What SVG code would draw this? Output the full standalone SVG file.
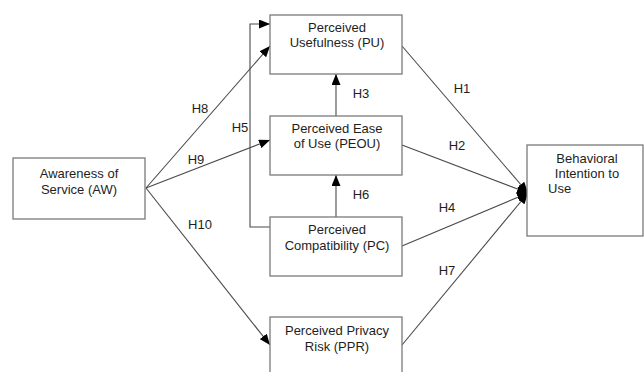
<svg xmlns="http://www.w3.org/2000/svg" width="644" height="372" viewBox="0 0 644 372">
<defs>
<style>
.box{fill:#fff;stroke:#7a7a7a;stroke-width:1.3}
.t{font-family:"Liberation Sans",Arial,sans-serif;font-size:13px;fill:#1e1e1e;text-anchor:middle}
.ts{text-anchor:start}
.lbl{font-family:"Liberation Sans",Arial,sans-serif;font-size:13px;fill:#1e1e1e;text-anchor:middle}
.edge{fill:none;stroke:#4a4a4a;stroke-width:1.1}
</style>
<marker id="arr" markerUnits="userSpaceOnUse" markerWidth="11" markerHeight="9" refX="11" refY="4.5" orient="auto">
<path d="M0,0 L11,4.5 L0,9 z" fill="#000"/>
</marker>
</defs>
<rect width="644" height="372" fill="#fff"/>
<g id="connectors">
<g id="h8"><path class="edge" d="M146,188 L270,46" marker-end="url(#arr)"/><text class="lbl" x="200" y="113">H8</text></g>
<g id="h9"><path class="edge" d="M146,188 L270,140" marker-end="url(#arr)"/><text class="lbl" x="196" y="164">H9</text></g>
<g id="h10"><path class="edge" d="M146,188 L270,345" marker-end="url(#arr)"/><text class="lbl" x="200" y="229">H10</text></g>
<g id="h5"><path class="edge" d="M270,227 L250,227 L250,24 L270,24" marker-end="url(#arr)"/><text class="lbl" x="240" y="132">H5</text></g>
<g id="h3"><path class="edge" d="M336,116 L336,74" marker-end="url(#arr)"/><text class="lbl" x="361" y="98">H3</text></g>
<g id="h6"><path class="edge" d="M336,217 L336,175" marker-end="url(#arr)"/><text class="lbl" x="361" y="199">H6</text></g>
<g id="h1"><path class="edge" d="M402,46 L528,193" marker-end="url(#arr)"/><text class="lbl" x="462" y="93">H1</text></g>
<g id="h2"><path class="edge" d="M402,145 L528,193" marker-end="url(#arr)"/><text class="lbl" x="457" y="150">H2</text></g>
<g id="h4"><path class="edge" d="M402,246 L528,193" marker-end="url(#arr)"/><text class="lbl" x="447" y="212">H4</text></g>
<g id="h7"><path class="edge" d="M402,345 L528,193" marker-end="url(#arr)"/><text class="lbl" x="447" y="275">H7</text></g>
</g>
<g id="aw"><rect class="box" x="13" y="158" width="132" height="61"/><text class="t" x="79" y="178">Awareness of</text><text class="t" x="79" y="194">Service (AW)</text></g>
<g id="pu"><rect class="box" x="270" y="15" width="132" height="59"/><text class="t" x="337" y="32">Perceived</text><text class="t" x="337" y="47">Usefulness (PU)</text></g>
<g id="peou"><rect class="box" x="270" y="116" width="132" height="59"/><text class="t" x="337" y="133">Perceived Ease</text><text class="t" x="337" y="148">of Use (PEOU)</text></g>
<g id="pc"><rect class="box" x="270" y="217" width="132" height="59"/><text class="t" x="337" y="234">Perceived</text><text class="t" x="337" y="250">Compatibility (PC)</text></g>
<g id="ppr"><rect class="box" x="270" y="317" width="132" height="70"/><text class="t" x="337" y="335">Perceived Privacy</text><text class="t" x="337" y="351">Risk (PPR)</text></g>
<g id="bi"><rect class="box" x="527" y="145" width="116" height="91"/><text class="t" x="587" y="163">Behavioral</text><text class="t" x="587" y="178">Intention to</text><text class="t ts" x="548" y="193">Use</text></g>
</svg>
